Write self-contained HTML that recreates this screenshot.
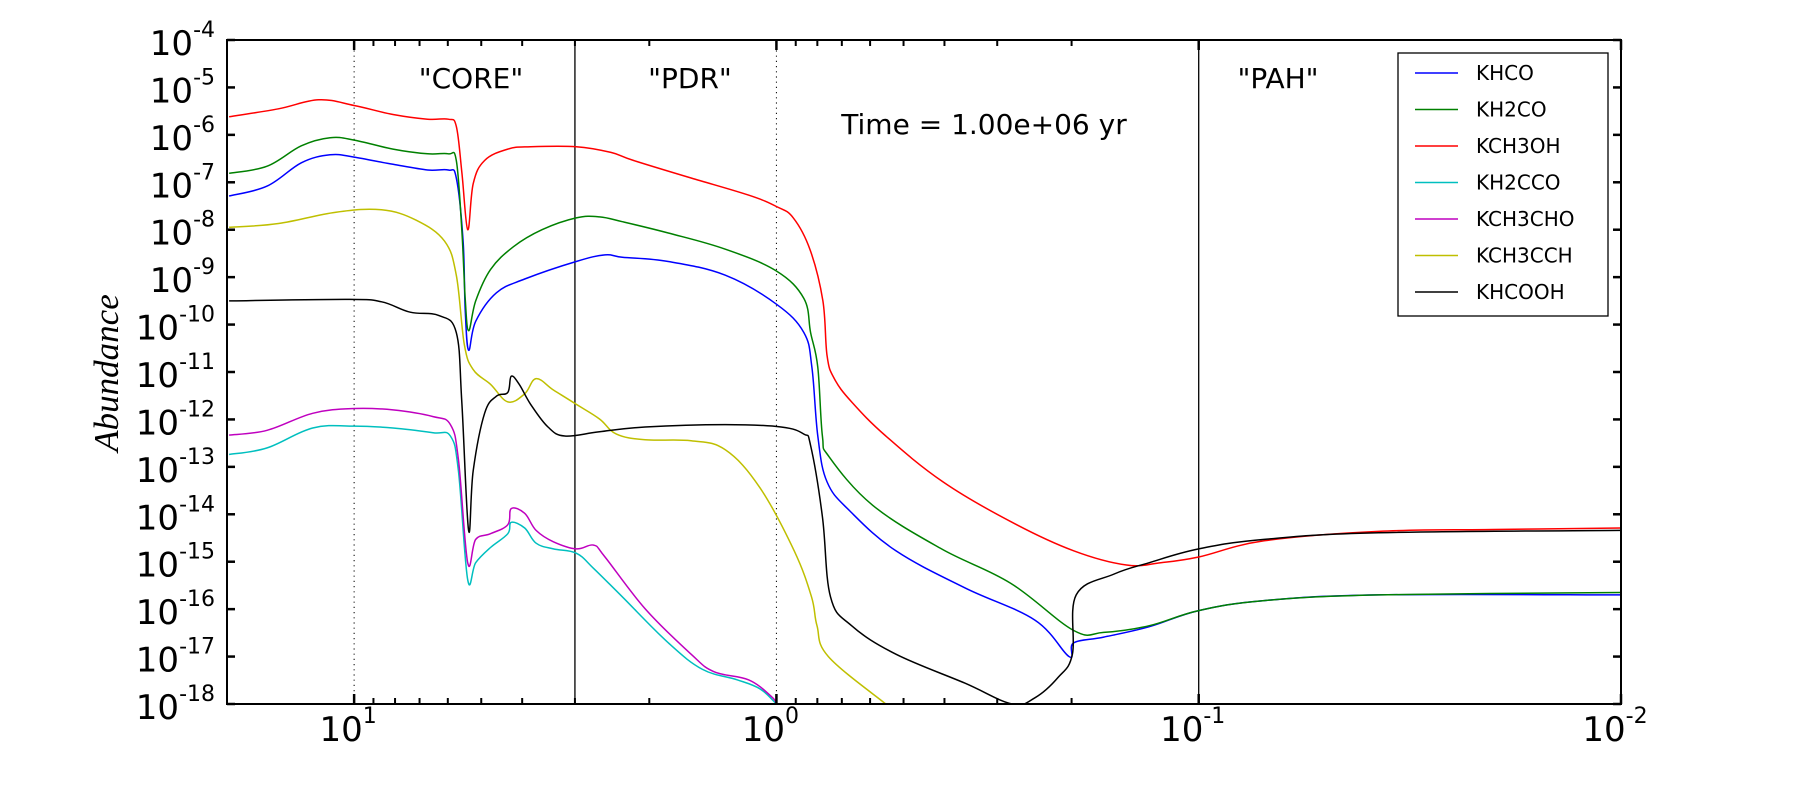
<!DOCTYPE html>
<html><head><meta charset="utf-8"><style>
html,body{margin:0;padding:0;background:#fff;}
svg text{font-family:"DejaVu Sans","Liberation Sans",sans-serif;}
</style></head><body>
<svg id="chart" width="1800" height="800" viewBox="0 0 1800 800" xmlns="http://www.w3.org/2000/svg">
<rect width="1800" height="800" fill="#fff"/>
<g id="grid"></g>
<g id="series" clip-path="url(#clip)"></g>
<defs><clipPath id="clip"><rect x="227" y="40" width="1394" height="664"/></clipPath></defs>
<g id="axes"></g>
<text x="471" y="88" font-size="28" text-anchor="middle">"CORE"</text>
<text x="690" y="88" font-size="28" text-anchor="middle">"PDR"</text>
<text x="1278" y="88" font-size="28" text-anchor="middle">"PAH"</text>
<text x="984" y="134" font-size="28" text-anchor="middle">Time = 1.00e+06 yr</text>
<text transform="translate(118,373) rotate(-90)" font-size="35" font-style="italic" text-anchor="middle" style="font-family:'Liberation Serif',serif">Abundance</text>
<g id="legend"></g>
</svg>
<script>
const seriesNames=["KHCO","KH2CO","KCH3OH","KH2CCO","KCH3CHO","KCH3CCH","KHCOOH"];
const seriesColors=["#0000ff","#008000","#ff0000","#00bfbf","#bf00bf","#bfbf00","#000000"];
const yTickExps=[-4,-5,-6,-7,-8,-9,-10,-11,-12,-13,-14,-15,-16,-17,-18];
const xTickExps=[1,0,-1,-2];
const regionBoundaries=[3.0,0.1];
// log10(distance) and log10(abundance) per series
const khcoLX=[1.296,1.206,1.125,1.057,1,0.908,0.826,0.777,0.758,0.742,0.737,0.729,0.712,0.663,0.596,0.474,0.406,0.365,0.256,0.121,0,-0.065,-0.084,-0.098,-0.12,-0.174,-0.283,-0.446,-0.612,-0.693,-0.704,-0.775,-0.883,-1,-1.155,-1.426,-2];
const khcoLY=[-7.29,-7.08,-6.59,-6.42,-6.47,-6.62,-6.74,-6.74,-6.91,-8.24,-9.69,-10.54,-9.93,-9.33,-9.04,-8.67,-8.53,-8.58,-8.67,-8.96,-9.57,-10.17,-10.9,-12.35,-13.32,-13.93,-14.77,-15.55,-16.23,-17.0,-16.71,-16.59,-16.37,-16.03,-15.82,-15.7,-15.7];
const kh2coLX=[1.296,1.206,1.125,1.057,1,0.908,0.826,0.777,0.758,0.745,0.737,0.729,0.712,0.677,0.623,0.555,0.474,0.419,0.365,0.256,0.121,0,-0.065,-0.081,-0.098,-0.109,-0.125,-0.228,-0.391,-0.554,-0.704,-0.775,-0.883,-1,-1.155,-1.426,-2];
const kh2coLY=[-6.81,-6.66,-6.23,-6.06,-6.11,-6.3,-6.4,-6.4,-6.54,-8.0,-9.45,-10.13,-9.5,-8.84,-8.36,-8.0,-7.75,-7.73,-7.83,-8.07,-8.41,-8.87,-9.45,-10.17,-10.9,-12.35,-12.79,-13.81,-14.73,-15.45,-16.45,-16.49,-16.35,-16.03,-15.82,-15.7,-15.65];
const kch3ohLX=[1.296,1.179,1.084,1,0.908,0.826,0.777,0.758,0.745,0.731,0.718,0.691,0.636,0.582,0.474,0.392,0.338,0.202,0.066,0,-0.04,-0.08,-0.11,-0.12,-0.137,-0.178,-0.259,-0.395,-0.558,-0.704,-0.829,-0.91,-1,-1.155,-1.426,-1.697,-2];
const kch3ohLY=[-5.62,-5.45,-5.26,-5.38,-5.57,-5.67,-5.67,-5.82,-6.78,-8.0,-7.03,-6.54,-6.3,-6.25,-6.25,-6.37,-6.54,-6.91,-7.27,-7.51,-7.75,-8.43,-9.5,-10.66,-11.14,-11.63,-12.35,-13.32,-14.17,-14.77,-15.07,-15.02,-14.9,-14.56,-14.36,-14.32,-14.29];
const kh2ccoLX=[1.296,1.206,1.098,1,0.908,0.813,0.772,0.753,0.731,0.712,0.677,0.636,0.628,0.596,0.569,0.528,0.474,0.433,0.365,0.256,0.175,0.093,0.039,0];
const kh2ccoLY=[-12.74,-12.6,-12.18,-12.14,-12.18,-12.28,-12.35,-13.08,-15.38,-15.02,-14.7,-14.41,-14.17,-14.29,-14.61,-14.73,-14.82,-15.14,-15.74,-16.71,-17.27,-17.49,-17.68,-18.0];
const kch3choLX=[1.296,1.206,1.098,1,0.908,0.813,0.772,0.753,0.731,0.712,0.677,0.636,0.628,0.596,0.569,0.528,0.474,0.433,0.406,0.311,0.202,0.148,0.066,0.011,0];
const kch3choLY=[-12.33,-12.23,-11.87,-11.77,-11.8,-11.94,-12.11,-12.84,-15.02,-14.53,-14.41,-14.22,-13.88,-13.98,-14.34,-14.58,-14.73,-14.65,-14.9,-15.99,-16.95,-17.32,-17.49,-17.85,-18.0];
const kch3cchLX=[1.296,1.179,1.043,0.935,0.853,0.786,0.758,0.739,0.718,0.677,0.636,0.596,0.569,0.528,0.474,0.419,0.379,0.311,0.202,0.121,0.039,-0.042,-0.083,-0.096,-0.123,-0.259];
const kch3cchLY=[-7.95,-7.87,-7.63,-7.58,-7.8,-8.24,-8.96,-10.42,-10.95,-11.26,-11.63,-11.46,-11.14,-11.38,-11.68,-11.99,-12.31,-12.43,-12.45,-12.64,-13.44,-14.77,-15.74,-16.35,-17.0,-18.0];
const khcoohLX=[1.296,1.016,0.935,0.867,0.799,0.758,0.745,0.729,0.718,0.691,0.663,0.636,0.628,0.609,0.582,0.541,0.501,0.419,0.311,0.121,-0.011,-0.065,-0.081,-0.109,-0.128,-0.178,-0.283,-0.446,-0.558,-0.612,-0.667,-0.701,-0.71,-0.8,-0.883,-1,-1.155,-1.426,-2];
const khcoohLY=[-9.5,-9.47,-9.52,-9.74,-9.81,-10.17,-11.63,-14.34,-13.08,-11.87,-11.51,-11.43,-11.09,-11.26,-11.68,-12.16,-12.35,-12.26,-12.16,-12.11,-12.16,-12.31,-12.55,-14.05,-15.74,-16.35,-16.95,-17.56,-18.0,-17.87,-17.44,-16.95,-15.7,-15.26,-15.02,-14.73,-14.53,-14.39,-14.34];

const seriesLX=[khcoLX,kh2coLX,kch3ohLX,kh2ccoLX,kch3choLX,kch3cchLX,khcoohLX];
const seriesLY=[khcoLY,kh2coLY,kch3ohLY,kh2ccoLY,kch3choLY,kch3cchLY,khcoohLY];

const L=227,R=1621,T=40,B=704;
const XMAXL=Math.log10(20),XMINL=-2;
function sx(lx){return L+(XMAXL-lx)/(XMAXL-XMINL)*(R-L);}
function sy(ly){return T+(-4-ly)/14*(B-T);}
const NS="http://www.w3.org/2000/svg";
function mk(tag,attrs,parent){const e=document.createElementNS(NS,tag);for(const k in attrs)e.setAttribute(k,attrs[k]);parent.appendChild(e);return e;}
const grid=document.getElementById('grid'),axes=document.getElementById('axes'),ser=document.getElementById('series'),leg=document.getElementById('legend');

yTickExps.forEach(e=>{
  const y=sy(e);
  if(e>-4&&e>-18){const g=mk('line',{x1:L,x2:R,y1:y,y2:y,stroke:'#000','stroke-width':1,'stroke-dasharray':'1.2,4'},grid);
  
  }
  const t1=mk('line',{x1:L,x2:L+8,y1:y,y2:y,stroke:'#000','stroke-width':2.5},axes);
  
  
  mk('line',{x1:R-8,x2:R,y1:y,y2:y,stroke:'#000','stroke-width':2.5},axes);
  const tx=mk('text',{x:215,y:y+15,'font-size':34,'text-anchor':'end'},axes);
  
  
  tx.innerHTML='10<tspan font-size="22" dy="-18">'+e+'</tspan>';
});
xTickExps.forEach(e=>{
  const x=sx(e);
  if(e===1||e===0){const g=mk('line',{x1:x,x2:x,y1:T,y2:B,stroke:'#000','stroke-width':1,'stroke-dasharray':'1.2,4'},grid);
  
  }
  mk('line',{x1:x,x2:x,y1:B,y2:B-10,stroke:'#000','stroke-width':2.5},axes);
  mk('line',{x1:x,x2:x,y1:T,y2:T+10,stroke:'#000','stroke-width':2.5},axes);
  const tx=mk('text',{x:x-6,y:741,'font-size':34,'text-anchor':'middle'},axes);
  
  
  tx.innerHTML='10<tspan font-size="22" dy="-18">'+e+'</tspan>';
  for(let m=2;m<=9;m++){const lx=e+Math.log10(m);if(lx>XMAXL||e<=-2)continue;const xm=sx(lx);
    mk('line',{x1:xm,x2:xm,y1:B,y2:B-6,stroke:'#000','stroke-width':2},axes);
    mk('line',{x1:xm,x2:xm,y1:T,y2:T+6,stroke:'#000','stroke-width':2},axes);}
});
regionBoundaries.forEach(v=>{const x=sx(Math.log10(v));
  const l=mk('line',{x1:x,x2:x,y1:T,y2:B,stroke:'#000','stroke-width':1.3},grid);
  
  });
const fr=mk('rect',{x:L,y:T,width:R-L,height:B-T,fill:'none',stroke:'#000','stroke-width':2},axes);



function smoothPath(pts){
  let d='M'+pts[0][0].toFixed(1)+','+pts[0][1].toFixed(1);
  const k=0.18;
  for(let i=0;i<pts.length-1;i++){
    const p0=pts[Math.max(0,i-1)],p1=pts[i],p2=pts[i+1],p3=pts[Math.min(pts.length-1,i+2)];
    const c1=[p1[0]+(p2[0]-p0[0])*k,p1[1]+(p2[1]-p0[1])*k];
    const c2=[p2[0]-(p3[0]-p1[0])*k,p2[1]-(p3[1]-p1[1])*k];
    d+='C'+c1[0].toFixed(1)+','+c1[1].toFixed(1)+' '+c2[0].toFixed(1)+','+c2[1].toFixed(1)+' '+p2[0].toFixed(1)+','+p2[1].toFixed(1);
  }
  return d;
}
seriesNames.forEach((n,i)=>{
  const pts=seriesLX[i].map((lx,j)=>[sx(lx),sy(seriesLY[i][j])]);
  const p=mk('path',{d:smoothPath(pts),fill:'none',stroke:seriesColors[i],'stroke-width':1.5,'stroke-linejoin':'round'},ser);
  
  
});
const lb=mk('rect',{x:1398,y:53,width:210,height:263,fill:'#fff',stroke:'#000','stroke-width':1.3},leg);


seriesNames.forEach((n,i)=>{
  const y=73+i*36.5;
  const g=mk('g',{},leg);
  
  
  mk('line',{x1:1415,x2:1458,y1:y,y2:y,stroke:seriesColors[i],'stroke-width':1.5},g);
  const t=mk('text',{x:1476,y:y+7,'font-size':20},g);
  t.textContent=n;
});
</script>
</body></html>
